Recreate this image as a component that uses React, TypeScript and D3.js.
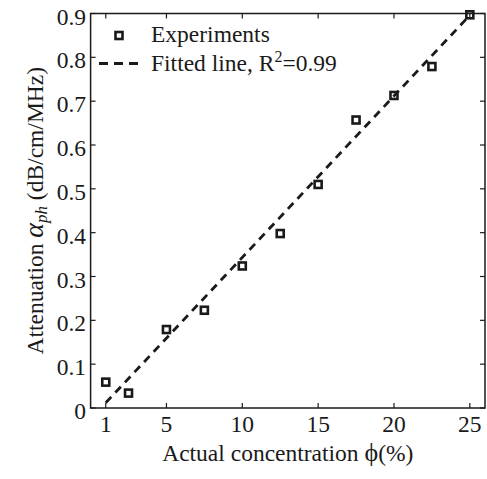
import React from "react";
import * as d3 from "d3";

const concentration = [1, 2.5, 5, 7.5, 10, 12.5, 15, 17.5, 20, 22.5, 25];
const attenuation = [0.059, 0.034, 0.179, 0.223, 0.324, 0.398, 0.51, 0.657, 0.713, 0.779, 0.897];
const fitX = [1, 25];
const fitY = [0.012, 0.896];
const xTicks = [1, 5, 10, 15, 20, 25];
const yTicks = [0, 0.1, 0.2, 0.3, 0.4, 0.5, 0.6, 0.7, 0.8, 0.9];
const legendLabels = ["Experiments", "Fitted line, R"];

const W = 487;
const H = 479;
const L = 90.6, R = 485, T = 13.5, B = 408;
const ink = "#1a1a1a";
const font = "'Liberation Serif', 'Times New Roman', serif";

export default function App() {
  const x = d3.scaleLinear().domain([0, 26]).range([L, R]);
  const y = d3.scaleLinear().domain([0, 0.9]).range([B, T]);
  const line = d3.line<number>().x((_, i) => x(fitX[i])).y((d) => y(d));
  const tl = 5;
  const ms = 7;
  const fs = 23.5;
  return (
    <svg width={W} height={H} style={{ position: "absolute", left: 0, top: 0, background: "#fff" }} fontFamily={font}>
      <rect x={0} y={0} width={W} height={H} fill="#fff" />
      <path d={line(fitY) || ""} fill="none" stroke={ink} strokeWidth={2.8} strokeDasharray="8,6" />
      {concentration.map((c, i) => (
        <rect key={i} x={x(c) - ms / 2} y={y(attenuation[i]) - ms / 2} width={ms} height={ms}
          fill="none" stroke={ink} strokeWidth={2.6} />
      ))}
      <rect x={L} y={T} width={R - L} height={B - T} fill="none" stroke={ink} strokeWidth={1.5} />
      {xTicks.map((t) => (
        <g key={"x" + t}>
          <line x1={x(t)} x2={x(t)} y1={B} y2={B - tl} stroke={ink} strokeWidth={1.2} />
          <line x1={x(t)} x2={x(t)} y1={T} y2={T + tl} stroke={ink} strokeWidth={1.2} />
          <text x={x(t)} y={432} fontSize={fs} textAnchor="middle" fill={ink}>{t}</text>
        </g>
      ))}
      {yTicks.map((t) => (
        <g key={"y" + t}>
          <line x1={L} x2={L + tl} y1={y(t)} y2={y(t)} stroke={ink} strokeWidth={1.2} />
          <line x1={R} x2={R - tl} y1={y(t)} y2={y(t)} stroke={ink} strokeWidth={1.2} />
          <text x={86} y={y(t) + 11} fontSize={fs} textAnchor="end" fill={ink}>{t === 0 ? "0" : d3.format(".1f")(t)}</text>
        </g>
      ))}
      <rect x={119 - ms / 2} y={35.5 - ms / 2} width={ms} height={ms} fill="none" stroke={ink} strokeWidth={2.6} />
      <text x={151} y={42} fontSize={fs} fill={ink}>{legendLabels[0]}</text>
      <line x1={99} x2={139} y1={63.5} y2={63.5} stroke={ink} strokeWidth={2.8} strokeDasharray="9,6" />
      <text x={151} y={71} fontSize={fs} fill={ink}>
        {legendLabels[1]}<tspan fontSize={16} dy={-9}>2</tspan><tspan dy={9}>=0.99</tspan>
      </text>
      <text x={(L + R) / 2} y={461} fontSize={fs} textAnchor="middle" fill={ink}>
        Actual concentration <tspan fontSize={26}>ϕ</tspan>(%)
      </text>
      <text transform={`translate(43, ${(T + B) / 2}) rotate(-90)`} fontSize={fs} textAnchor="middle" fill={ink}>
        Attenuation <tspan fontStyle="italic" fontSize={28}>α</tspan><tspan fontStyle="italic" fontSize={17} dy={4}>ph</tspan><tspan dy={-4}> (dB/cm/MHz)</tspan>
      </text>
    </svg>
  );
}
